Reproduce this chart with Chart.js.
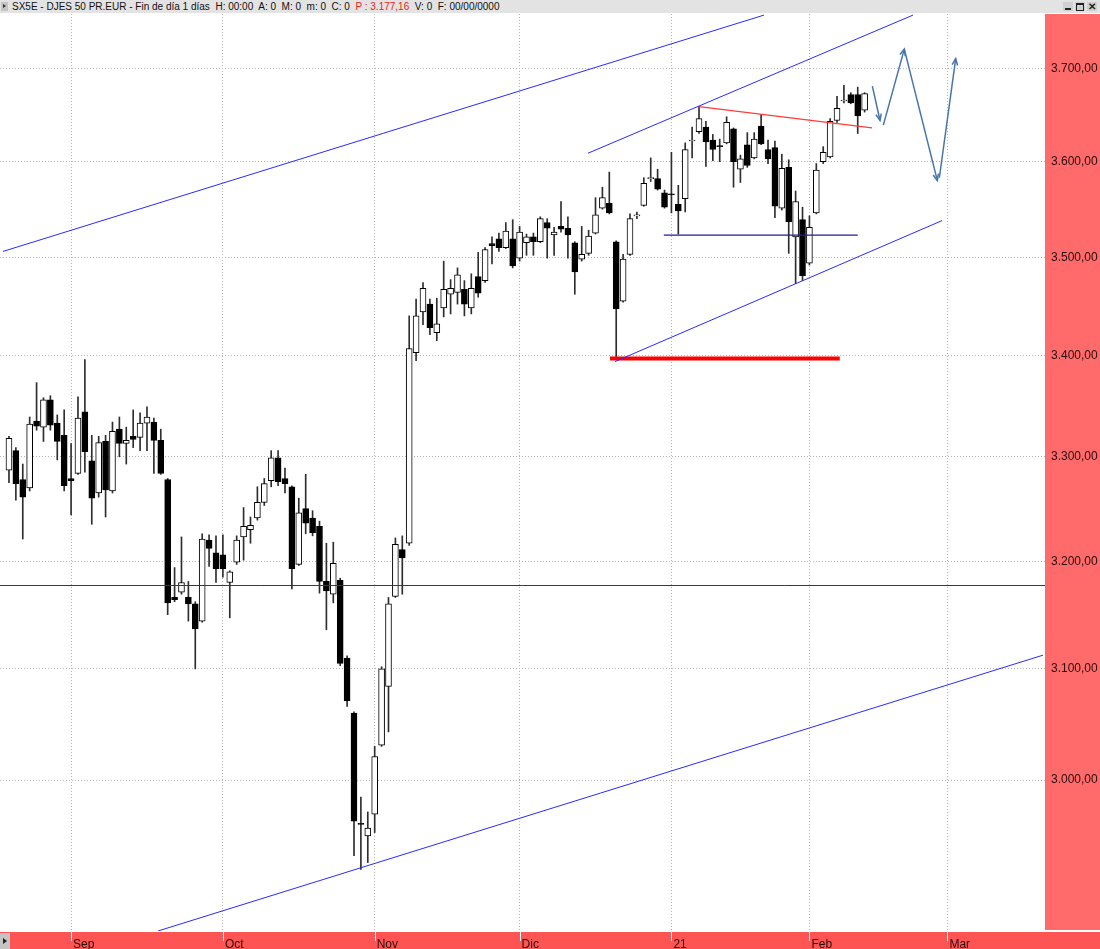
<!DOCTYPE html>
<html lang="es">
<head>
<meta charset="UTF-8">
<title>SX5E - DJES 50 PR.EUR</title>
<script src="https://cdn.jsdelivr.net/npm/chart.js"></script>
<style>
  html, body { margin: 0; padding: 0; background: #fff; }
  #wrap { position: relative; width: 1100px; height: 949px; overflow: hidden; font-family: "Liberation Sans", Arial, sans-serif; }
  #chart { position: absolute; left: 0; top: 0; }
  .hdr { position: absolute; left: 0; top: 0; width: 1100px; height: 13px; background: #e3e3e3; }
  .hdr .txt { position: absolute; left: 12px; top: 0; font-size: 10px; line-height: 13px; color: #111; white-space: nowrap; }
  .hdr .txt .red { color: #f02020; }
  .hbtn { position: absolute; left: 1px; top: 2px; width: 7px; height: 9px; background: #c4c4c4; }
  .hbtn:after { content: ""; position: absolute; left: 2px; top: 2px; border-left: 3px solid #333; border-top: 2.5px solid transparent; border-bottom: 2.5px solid transparent; }
  .win { position: absolute; top: 2px; width: 10px; height: 9px; background: #d0d0d0; }
  .w1 { left: 1063px; } .w1:after { content: ""; position: absolute; left: 2px; top: 6px; width: 6px; height: 2px; background: #222; }
  .w2 { left: 1075px; } .w2:after { content: ""; position: absolute; left: 1px; top: 1px; width: 6px; height: 5px; border: 1px solid #222; border-top-width: 2px; }
  .w3 { left: 1087px; font-size: 10px; line-height: 9px; text-align: center; color: #222; font-weight: bold; }
  .navbtn { position: absolute; left: 0; top: 933px; width: 10px; height: 16px; background: #c4c4c4; }
  .navbtn:after { content: ""; position: absolute; left: 3px; top: 5px; border-left: 4px solid #222; border-top: 3px solid transparent; border-bottom: 3px solid transparent; }
</style>
</head>
<body>
<div id="wrap">
  <canvas id="chart" width="1100" height="949"></canvas>
  <div class="hdr">
    <span class="hbtn"></span>
    <span class="txt">SX5E - DJES 50 PR.EUR - Fin de día 1 días&nbsp; H: 00:00&nbsp; A: 0&nbsp; M: 0&nbsp; m: 0&nbsp; C: 0&nbsp; <span class="red">P : 3.177,16</span>&nbsp; V: 0&nbsp; F: 00/00/0000</span>
    <span class="win w1"></span><span class="win w2"></span><span class="win w3">✕</span>
  </div>
  <div class="navbtn"></div>
</div>
<script>
// x = trading-day index, y = index points
const monthTicks = [9, 31, 53, 74, 96, 116, 136];
const monthLabels = ['Sep', 'Oct', 'Nov', 'Dic', '21', 'Feb', 'Mar'];
const priceTicks = [3000, 3100, 3200, 3300, 3400, 3500, 3600, 3700];
const xRange = [-1.3, 150.14];
const yRange = [2869.5, 3760.2];

const opens = [3287, 3306, 3278, 3270, 3335, 3329, 3356, 3333, 3321, 3279,
  3284, 3344, 3296, 3265, 3315, 3267, 3327, 3313, 3320, 3319,
  3333, 3334, 3316, 3278, 3166, 3171, 3166, 3160, 3144, 3220,
  3208, 3206, 3180, 3199, 3223, 3230, 3241, 3256, 3277, 3299,
  3279, 3271, 3197, 3250, 3241, 3233, 3181, 3169, 3182, 3110,
  3060, 2962, 2951, 2970, 3031, 3084, 3167, 3211, 3217, 3403,
  3444, 3452, 3423, 3448, 3462, 3464, 3467, 3448, 3480, 3476,
  3514, 3519, 3510, 3519, 3499, 3515, 3521, 3516, 3536, 3523,
  3532, 3530, 3515, 3498, 3504, 3525, 3551, 3556, 3516, 3455,
  3503, 3543, 3554, 3582, 3582, 3567, 3566, 3555, 3561, 3622,
  3632, 3637, 3623, 3617, 3620, 3635, 3592, 3618, 3604, 3638,
  3613, 3615, 3551, 3594, 3521, 3539, 3494, 3546, 3600, 3605,
  3644, 3665, 3672, 3672, 3655];
const highs = [3320, 3309, 3293, 3339, 3373, 3358, 3360, 3341, 3346, 3313,
  3359, 3396, 3321, 3320, 3321, 3334, 3339, 3329, 3346, 3343,
  3349, 3338, 3327, 3279, 3194, 3223, 3181, 3162, 3226, 3225,
  3224, 3225, 3191, 3224, 3251, 3242, 3271, 3279, 3306, 3306,
  3289, 3272, 3260, 3283, 3248, 3238, 3217, 3218, 3184, 3112,
  3061, 2985, 2972, 3030, 3102, 3166, 3222, 3224, 3440, 3457,
  3474, 3457, 3458, 3496, 3477, 3489, 3476, 3483, 3505, 3510,
  3521, 3525, 3536, 3539, 3532, 3524, 3525, 3542, 3540, 3531,
  3558, 3542, 3516, 3532, 3528, 3562, 3573, 3589, 3517, 3503,
  3545, 3547, 3583, 3604, 3592, 3570, 3610, 3575, 3620, 3637,
  3659, 3643, 3629, 3624, 3648, 3636, 3607, 3631, 3631, 3650,
  3623, 3622, 3608, 3602, 3569, 3552, 3543, 3598, 3616, 3646,
  3670, 3682, 3674, 3680, 3674];
const lows = [3275, 3258, 3221, 3267, 3326, 3315, 3326, 3297, 3267, 3244,
  3283, 3285, 3235, 3261, 3242, 3265, 3300, 3293, 3309, 3306,
  3306, 3284, 3283, 3150, 3162, 3169, 3144, 3100, 3143, 3195,
  3180, 3185, 3147, 3197, 3201, 3217, 3239, 3253, 3271, 3272,
  3265, 3174, 3196, 3226, 3224, 3170, 3136, 3161, 3103, 3066,
  2934, 2922, 2928, 2954, 3030, 3043, 3166, 3169, 3215, 3395,
  3431, 3421, 3415, 3439, 3442, 3452, 3440, 3442, 3459, 3474,
  3493, 3506, 3509, 3489, 3496, 3502, 3502, 3515, 3499, 3502,
  3526, 3499, 3462, 3496, 3502, 3524, 3550, 3545, 3396, 3454,
  3502, 3540, 3553, 3579, 3570, 3551, 3546, 3524, 3547, 3604,
  3630, 3595, 3601, 3600, 3619, 3573, 3578, 3594, 3603, 3618,
  3598, 3541, 3549, 3504, 3473, 3476, 3492, 3545, 3598, 3604,
  3642, 3663, 3662, 3630, 3653];
const closes = [3318, 3274, 3261, 3332, 3330, 3356, 3331, 3315, 3272, 3277,
  3338, 3305, 3260, 3314, 3268, 3325, 3313, 3316, 3317, 3333,
  3339, 3316, 3284, 3161, 3164, 3180, 3160, 3137, 3221, 3212,
  3193, 3193, 3190, 3220, 3233, 3234, 3256, 3274, 3299, 3276,
  3274, 3193, 3246, 3236, 3227, 3181, 3172, 3198, 3105, 3071,
  2964, 2961, 2958, 3021, 3100, 3160, 3216, 3203, 3407, 3440,
  3468, 3428, 3432, 3467, 3468, 3482, 3452, 3468, 3463, 3508,
  3512, 3510, 3527, 3491, 3526, 3521, 3516, 3540, 3530, 3526,
  3529, 3523, 3485, 3503, 3522, 3544, 3562, 3546, 3447, 3498,
  3540, 3544, 3577, 3582, 3571, 3552, 3565, 3548, 3613, 3623,
  3646, 3621, 3613, 3616, 3642, 3600, 3603, 3596, 3624, 3619,
  3603, 3553, 3593, 3537, 3558, 3481, 3531, 3591, 3610, 3643,
  3657, 3666, 3663, 3649, 3673];

// drawn studies: [index, price] end points
const upperLongLine = [[-0.87, 3506], [109.42, 3759]];
const upperChannel = [[83.91, 3609], [131.01, 3759]];
const lowerChannel = [[87.83, 3394], [135.22, 3538]];
const lowerLongLine = [[21.59, 2869.5], [149.86, 3112.6]];
const supportLevel = [[87.1, 3397], [120.4, 3397]];
const resistanceLine = [[100.0, 3659], [125.07, 3636]];
const neckLine = [[94.9, 3523], [123.0, 3523]];
const cursorLine = [[-5, 3177.16], [155, 3177.16]];
const projection = [
  [[125.12, 3681], [126.23, 3644]],
  [[126.71, 3639], [129.75, 3721.5]],
  [[129.75, 3721.5], [134.54, 3580]],
  [[134.83, 3583], [137.2, 3711]]
];

function fmtPrice(v) {
  const n = Math.round(v);
  return Math.floor(n / 1000) + '.' + String(n % 1000).padStart(3, '0') + ',00';
}

function lineSet(pts, color, width, extra) {
  return Object.assign({
    type: 'line',
    data: pts.map(p => ({ x: p[0], y: p[1] })),
    borderColor: color,
    borderWidth: width,
    pointRadius: 0,
    fill: false,
    tension: 0,
    order: 1
  }, extra || {});
}

const days = opens.map((_, i) => i);

const datasets = [
  {
    type: 'bar',
    data: days.map(i => ({ x: i, y: [lows[i], highs[i]] })),
    backgroundColor: '#2e2e2e',
    borderWidth: 0,
    grouped: false,
    maxBarThickness: 1,
    categoryPercentage: 1,
    barPercentage: 1,
    order: 3
  },
  {
    type: 'bar',
    data: days.map(i => ({ x: i, y: [opens[i], closes[i]] })),
    backgroundColor: c => closes[c.dataIndex] >= opens[c.dataIndex] ? '#ffffff' : '#000000',
    borderColor: '#000000',
    borderWidth: 1,
    borderSkipped: false,
    minBarLength: 1,
    grouped: false,
    maxBarThickness: 6,
    categoryPercentage: 1,
    barPercentage: 1,
    order: 2
  },
  lineSet(cursorLine, '#3a3a3a', 1),
  lineSet(upperLongLine, '#2a2aff', 1),
  lineSet(upperChannel, '#2a2aff', 1),
  lineSet(lowerChannel, '#2a2aff', 1),
  lineSet(lowerLongLine, '#2a2aff', 1),
  lineSet(supportLevel, '#ff0000', 4),
  lineSet(resistanceLine, '#ff3b3b', 1.2),
  lineSet(neckLine, '#1c1c9c', 1.3)
];
projection.forEach(seg => datasets.push(lineSet(seg, '#4876a8', 1.5, { arrow: true, order: 0 })));

const chartDecor = {
  id: 'chartDecor',
  beforeDraw(chart) {
    const { ctx, chartArea: a, width, height } = chart;
    ctx.save();
    ctx.fillStyle = '#ffffff';
    ctx.fillRect(0, 0, width, height);
    ctx.fillStyle = '#ff6a6a';
    ctx.fillRect(a.right, a.top, width - a.right, a.bottom - a.top - 1);
    ctx.fillStyle = '#ff5454';
    ctx.fillRect(0, a.bottom + 1, width, height - a.bottom - 1);
    ctx.restore();
  },
  afterDatasetsDraw(chart) {
    const ctx = chart.ctx;
    ctx.save();
    chart.data.datasets.forEach((ds, i) => {
      if (!ds.arrow) return;
      const pts = chart.getDatasetMeta(i).data;
      const p1 = pts[pts.length - 2], p2 = pts[pts.length - 1];
      const ang = Math.atan2(p2.y - p1.y, p2.x - p1.x);
      ctx.strokeStyle = ds.borderColor;
      ctx.lineWidth = ds.borderWidth;
      ctx.beginPath();
      ctx.moveTo(p2.x - 7 * Math.cos(ang - 0.4), p2.y - 7 * Math.sin(ang - 0.4));
      ctx.lineTo(p2.x, p2.y);
      ctx.lineTo(p2.x - 7 * Math.cos(ang + 0.4), p2.y - 7 * Math.sin(ang + 0.4));
      ctx.stroke();
    });
    ctx.restore();
  },
  afterDraw(chart) {
    const { ctx, chartArea: a, scales } = chart;
    ctx.save();
    ctx.strokeStyle = '#ffffff';
    ctx.lineWidth = 1;
    monthTicks.forEach(v => {
      const px = Math.round(scales.x.getPixelForValue(v)) + 0.5;
      ctx.beginPath();
      ctx.moveTo(px, a.bottom + 1);
      ctx.lineTo(px, a.bottom + 10);
      ctx.stroke();
    });
    ctx.restore();
  }
};

Chart.defaults.font.family = '"Liberation Sans", Arial, sans-serif';
Chart.defaults.font.size = 12;

new Chart(document.getElementById('chart'), {
  type: 'bar',
  data: { datasets },
  plugins: [chartDecor],
  options: {
    responsive: false,
    animation: false,
    events: [],
    layout: { padding: { top: 14, left: 0, right: 0, bottom: 0 } },
    plugins: { legend: { display: false }, tooltip: { enabled: false } },
    scales: {
      x: {
        type: 'linear',
        min: xRange[0],
        max: xRange[1],
        bounds: 'data',
        offset: false,
        afterBuildTicks: s => { s.ticks = monthTicks.map(v => ({ value: v })); },
        afterFit: s => { s.height = 18; },
        grid: { offset: false, color: '#b4b4b4', drawTicks: false },
        border: { display: false, dash: [1, 2] },
        ticks: {
          autoSkip: false,
          maxRotation: 0,
          align: 'start',
          labelOffset: 2,
          padding: 6,
          color: '#2a0d0d',
          callback: (v, i) => monthLabels[i]
        }
      },
      y: {
        type: 'logarithmic',
        position: 'right',
        min: yRange[0],
        max: yRange[1],
        bounds: 'data',
        beginAtZero: false,
        afterBuildTicks: s => { s.ticks = priceTicks.map(v => ({ value: v })); },
        afterFit: s => { s.width = 55; },
        grid: { color: '#b4b4b4', drawTicks: false },
        border: { display: false, dash: [1, 2] },
        ticks: {
          autoSkip: false,
          padding: 6,
          color: '#2a0d0d',
          callback: v => fmtPrice(v)
        }
      }
    }
  }
});
</script>
</body>
</html>
